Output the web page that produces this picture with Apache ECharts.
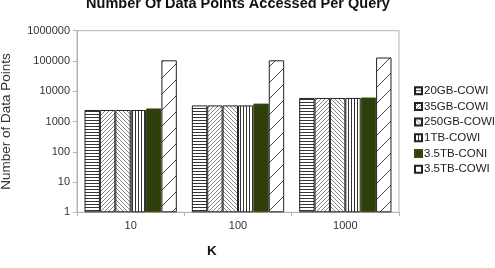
<!DOCTYPE html>
<html><head><meta charset="utf-8">
<script src="https://cdn.jsdelivr.net/npm/echarts@6/dist/echarts.min.js"></script>
<style>html,body{margin:0;padding:0;background:#fff}#c{width:495px;height:268px}</style>
</head><body><div id="c"></div>
<script>
const categories = ['10', '100', '1000'];
const seriesNames = ['20GB-COWI', '35GB-COWI', '250GB-COWI', '1TB-COWI', '3.5TB-CONI', '3.5TB-COWI'];
const s20GB = [2400, 3400, 6000];
const s35GB = [2400, 3400, 6000];
const s250GB = [2400, 3400, 6000];
const s1TB = [2400, 3400, 6000];
const s35TBconi = [2700, 3900, 6200];
const s35TBcowi = [105000, 105000, 130000];
const yTicks = [1, 10, 100, 1000, 10000, 100000, 1000000];

function tile(w, h, draw) {
  const c = document.createElement('canvas');
  c.width = w; c.height = h;
  const g = c.getContext('2d');
  g.fillStyle = '#fff'; g.fillRect(0, 0, w, h);
  g.strokeStyle = '#222'; g.fillStyle = '#222'; g.lineWidth = 1;
  draw(g, w, h);
  return { image: c, repeat: 'repeat' };
}
const patH = tile(4, 3, (g, w) => { g.fillStyle = '#333'; g.fillRect(0, 0, w, 1); });
const patV = tile(3, 4, (g, w, h) => { g.fillStyle = '#333'; g.fillRect(0, 0, 1, h); });
const patSlash = tile(4, 4, (g, w, h) => {
  g.strokeStyle = '#666'; g.lineWidth = 0.8;
  g.beginPath(); g.moveTo(-1, h + 1); g.lineTo(w + 1, -1); g.stroke();
});
const patBack = tile(4, 4, (g, w, h) => {
  g.strokeStyle = '#666'; g.lineWidth = 0.8;
  g.beginPath(); g.moveTo(-1, -1); g.lineTo(w + 1, h + 1); g.stroke();
});
const patSparse = tile(16, 16, (g, w, h) => {
  g.strokeStyle = '#444';
  g.beginPath(); g.moveTo(-1, h + 1); g.lineTo(w + 1, -1); g.stroke();
});
const fills = [patH, patSlash, patBack, patV, '#2f3f0a', patSparse];
const values = [s20GB, s35GB, s250GB, s1TB, s35TBconi, s35TBcowi];

const chart = echarts.init(document.getElementById('c'), null, { renderer: 'canvas' });
chart.setOption({
  animation: false,
  backgroundColor: '#fff',
  title: {
    text: 'Number Of Data Points Accessed Per Query',
    left: 238, top: -4, textAlign: 'center', padding: 0,
    textStyle: { fontFamily: 'Liberation Sans', fontSize: 14.5, fontWeight: 'bold', color: '#111' }
  },
  grid: { left: 77, right: 96, top: 30.7, bottom: 55.7, show: true, borderColor: '#b3b3b3', borderWidth: 1, backgroundColor: 'transparent', containLabel: false, outerBoundsMode: 'none' },
  legend: {
    orient: 'vertical', left: 414, top: 84.7, padding: 0,
    itemWidth: 7, itemHeight: 7, itemGap: 3.7, icon: 'rect',
    data: seriesNames,
    textStyle: { fontFamily: 'Liberation Sans', fontSize: 11.5, color: '#222', lineHeight: 12, padding: [0, 0, 0, -3] }
  },
  xAxis: {
    type: 'category', data: categories,
    axisLine: { lineStyle: { color: '#b3b3b3' } },
    axisTick: { show: true, length: 4, lineStyle: { color: '#b3b3b3' } },
    axisLabel: { fontFamily: 'Liberation Sans', fontSize: 11, color: '#333', margin: 8 }
  },
  yAxis: {
    type: 'log', logBase: 10, min: 1, max: 1000000,
    name: 'Number of Data Points', nameLocation: 'middle', nameGap: 64,
    nameTextStyle: { fontFamily: 'Liberation Sans', fontSize: 13.5, color: '#333' },
    axisLine: { show: true, lineStyle: { color: '#b3b3b3' } },
    axisTick: { show: true, length: 4, lineStyle: { color: '#b3b3b3' } },
    splitLine: { show: false },
    axisLabel: {
      fontFamily: 'Liberation Sans', fontSize: 11, color: '#333', margin: 7,
      formatter: v => { const t = yTicks.find(x => Math.abs(x - v) / x < 1e-6); return t !== undefined ? String(t) : ''; }
    }
  },
  graphic: [{ type: 'text', left: 207, top: 244, style: { text: 'K', font: 'bold 13.5px "Liberation Sans"', fill: '#111' } }],
  series: seriesNames.map((n, i) => ({
    name: n, type: 'bar', data: values[i],
    barGap: '0%', barCategoryGap: '14%',
    itemStyle: { color: fills[i], borderColor: i === 4 ? '#3a4a10' : '#222', borderWidth: 1 }
  }))
});
</script></body></html>
